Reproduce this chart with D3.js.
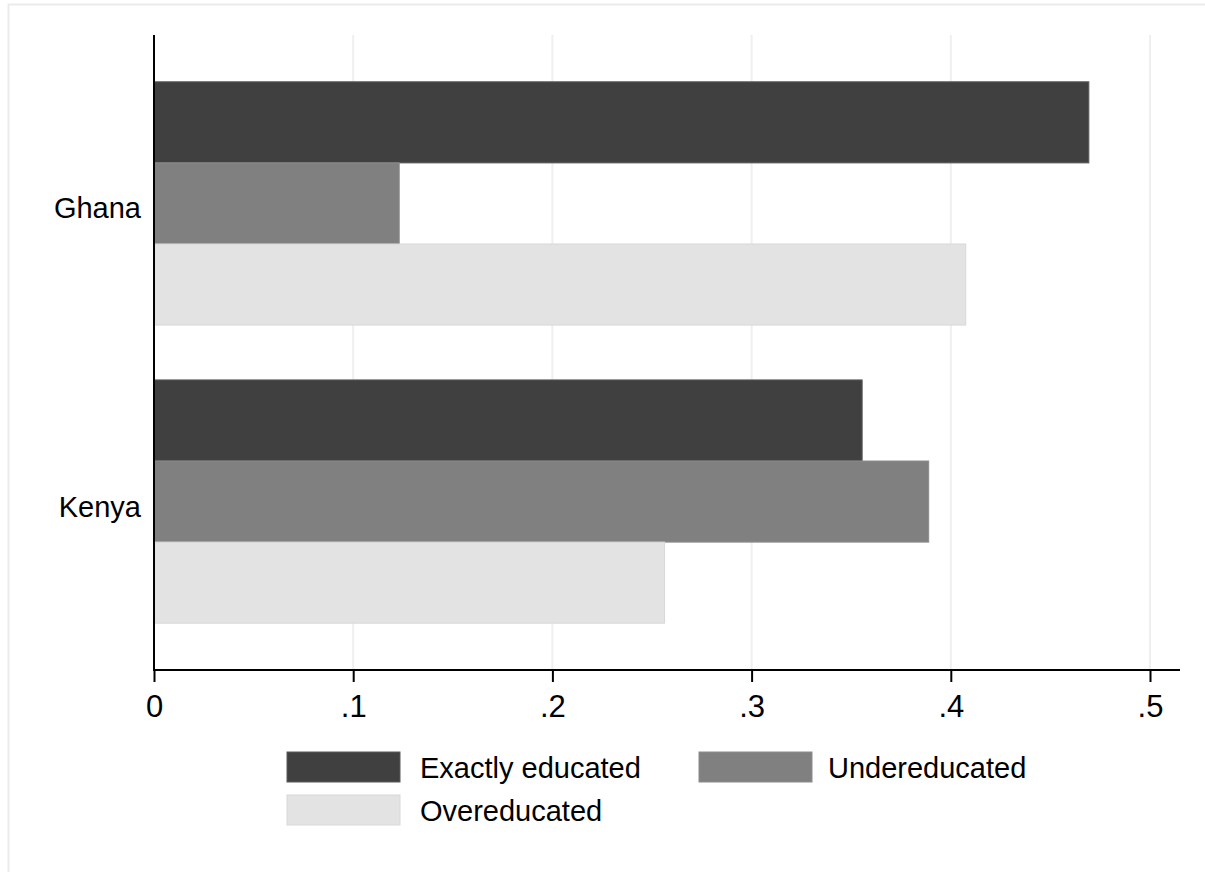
<!DOCTYPE html>
<html><head><meta charset="utf-8">
<script src="https://cdn.jsdelivr.net/npm/d3@7"></script>
<style>body{margin:0;background:#fff}svg{display:block}text{font-family:"Liberation Sans",Arial,sans-serif;fill:#000}</style>
</head><body><svg id="c" width="1205" height="872"></svg>
<script>
const categories = ["Ghana", "Kenya"];
const seriesNames = ["Exactly educated", "Undereducated", "Overeducated"];
const exactly = [0.4693, 0.3555];
const under = [0.1231, 0.3889];
const over = [0.4075, 0.2563];
const xTicks = [0, 0.1, 0.2, 0.3, 0.4, 0.5];
const xTickLabels = ["0", ".1", ".2", ".3", ".4", ".5"];
const colors = ["#404040", "#808080", "#e3e3e3"];
const strokes = ["#5a5a5a", "#8c8c8c", "#d8d8d8"];

const svg = d3.select("#c");
svg.append("rect").attr("x", 8.5).attr("y", 4.5).attr("width", 1210).attr("height", 880)
  .attr("fill", "#fff").attr("stroke", "#ebebeb").attr("stroke-width", 2);

const x = d3.scaleLinear().domain([0, 0.5]).range([154, 1150]);
const y0 = d3.scaleBand().domain(categories).range([35, 670]).paddingInner(0.184).paddingOuter(0.157);
const y1 = d3.scaleBand().domain(seriesNames).range([0, y0.bandwidth()]);

// grid
svg.append("g").selectAll("line").data(xTicks.slice(1)).join("line")
  .attr("x1", d => x(d)).attr("x2", d => x(d)).attr("y1", 35).attr("y2", 670)
  .attr("stroke", "#efefef").attr("stroke-width", 2);

const series = [exactly, under, over];
const g = svg.append("g");
categories.forEach((c, i) => {
  series.forEach((s, j) => {
    g.append("rect")
      .attr("x", x(0)).attr("y", y0(c) + y1(seriesNames[j]))
      .attr("width", x(s[i]) - x(0)).attr("height", y1.bandwidth())
      .attr("fill", colors[j]).attr("stroke", strokes[j]).attr("stroke-width", 1);
  });
});

// y axis line
svg.append("line").attr("x1", 154).attr("x2", 154).attr("y1", 35).attr("y2", 671)
  .attr("stroke", "#000").attr("stroke-width", 2);
// category labels
svg.append("g").selectAll("text").data(categories).join("text")
  .attr("x", 141).attr("y", d => y0(d) + y0.bandwidth() / 2 + 5)
  .attr("text-anchor", "end").attr("dominant-baseline", "central")
  .attr("font-size", 29).text(d => d);

// x axis
const xAxis = d3.axisBottom(x).tickValues(xTicks).tickFormat((d, i) => xTickLabels[i]).tickSize(12).tickSizeOuter(0);
const ax = svg.append("g").attr("transform", "translate(0,670)").call(xAxis);
ax.select(".domain").attr("stroke", "#000").attr("stroke-width", 2).attr("d", "M154,0H1180");
ax.selectAll(".tick line").attr("stroke", "#000").attr("stroke-width", 2);
ax.selectAll(".tick text").attr("font-size", 31).attr("dy", 0).attr("y", 47)
  .attr("font-family", '"Liberation Sans",Arial,sans-serif').attr("fill", "#000");

// legend
const legendItems = [
  {name: seriesNames[0], c: 0, x: 287, y: 752, tx: 420},
  {name: seriesNames[1], c: 1, x: 699, y: 752, tx: 828},
  {name: seriesNames[2], c: 2, x: 287, y: 795, tx: 420}
];
const lg = svg.append("g");
legendItems.forEach(it => {
  lg.append("rect").attr("x", it.x).attr("y", it.y).attr("width", 113).attr("height", 30)
    .attr("fill", colors[it.c]).attr("stroke", strokes[it.c]).attr("stroke-width", 1);
  lg.append("text").attr("x", it.tx).attr("y", it.y + 16)
    .attr("dominant-baseline", "central").attr("font-size", 29).text(it.name);
});
</script></body></html>
